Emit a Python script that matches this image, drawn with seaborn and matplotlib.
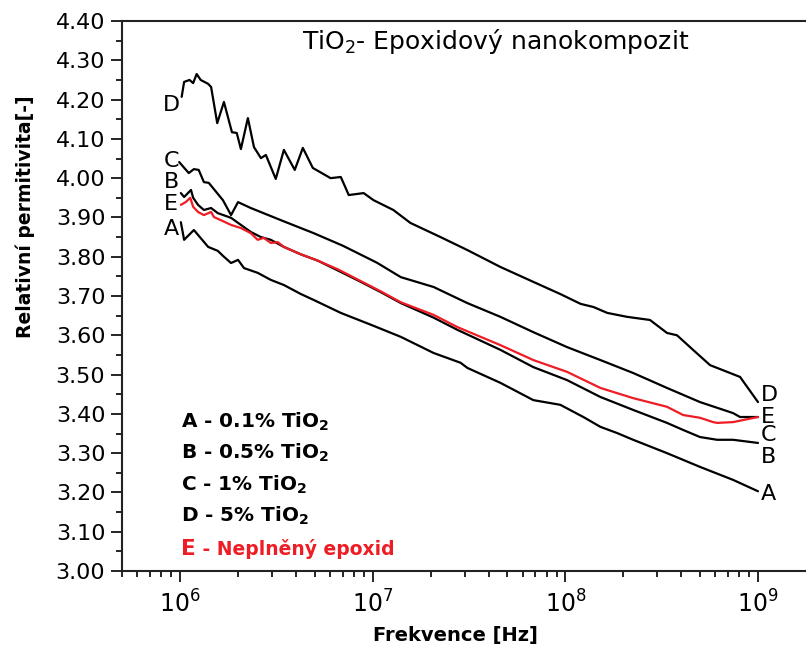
import numpy as np
import pandas as pd
import matplotlib
matplotlib.use("Agg")
import matplotlib.pyplot as plt
import seaborn as sns
from matplotlib.ticker import MultipleLocator, FormatStrFormatter, LogLocator, NullFormatter

# ---------------- data ----------------
A_freq = [1.01e6, 1.05e6, 1.18e6, 1.40e6, 1.57e6, 1.69e6, 1.84e6, 2.00e6, 2.15e6, 2.53e6,
          2.96e6, 3.46e6, 4.24e6, 4.94e6, 6.83e6, 1.0e7, 1.40e7, 2.07e7, 2.86e7, 3.10e7,
          4.60e7, 6.82e7, 9.42e7, 1.24e8, 1.52e8, 1.86e8, 2.25e8, 3.37e8, 5.00e8, 7.42e8, 1.0e9]
A_eps = [3.888, 3.843, 3.868, 3.825, 3.815, 3.800, 3.784, 3.792, 3.771, 3.759,
         3.741, 3.728, 3.705, 3.690, 3.657, 3.625, 3.596, 3.555, 3.530, 3.517,
         3.479, 3.435, 3.423, 3.392, 3.367, 3.351, 3.334, 3.300, 3.265, 3.232, 3.203]

B_freq = [1.01e6, 1.05e6, 1.14e6, 1.17e6, 1.24e6, 1.33e6, 1.45e6, 1.57e6, 1.84e6, 2.07e6,
          2.33e6, 2.63e6, 2.96e6, 3.46e6, 4.24e6, 5.19e6, 6.59e6, 8.36e6, 1.10e7, 1.40e7,
          2.07e7, 2.75e7, 4.60e7, 6.82e7, 1.02e8, 1.52e8, 2.25e8, 3.37e8, 4.09e8, 5.00e8,
          6.14e8, 7.42e8, 1.0e9]
B_eps = [3.962, 3.952, 3.970, 3.950, 3.932, 3.919, 3.924, 3.911, 3.899, 3.881,
         3.863, 3.850, 3.843, 3.825, 3.806, 3.790, 3.765, 3.740, 3.710, 3.682,
         3.645, 3.614, 3.563, 3.519, 3.486, 3.443, 3.410, 3.377, 3.359, 3.341,
         3.334, 3.334, 3.326]

C_freq = [0.99e6, 1.11e6, 1.18e6, 1.25e6, 1.33e6, 1.41e6, 1.67e6, 1.84e6, 2.00e6, 2.33e6,
          3.46e6, 4.94e6, 7.00e6, 1.05e7, 1.40e7, 2.07e7, 3.10e7, 4.60e7, 6.82e7, 1.02e8,
          1.52e8, 2.25e8, 3.37e8, 5.00e8, 7.42e8, 8.07e8, 1.0e9]
C_eps = [4.041, 4.013, 4.023, 4.021, 3.990, 3.988, 3.944, 3.906, 3.939, 3.924,
         3.890, 3.860, 3.828, 3.785, 3.748, 3.723, 3.682, 3.647, 3.608, 3.570,
         3.537, 3.504, 3.466, 3.430, 3.402, 3.392, 3.392]

D_freq = [1.02e6, 1.05e6, 1.12e6, 1.17e6, 1.22e6, 1.28e6, 1.40e6, 1.45e6, 1.56e6, 1.69e6,
          1.86e6, 1.97e6, 2.07e6, 2.25e6, 2.42e6, 2.63e6, 2.79e6, 3.14e6, 3.46e6, 3.94e6,
          4.34e6, 4.89e6, 6.05e6, 6.83e6, 7.24e6, 7.51e6, 8.98e6, 1.01e7, 1.28e7, 1.57e7,
          2.25e7, 3.10e7, 4.60e7, 6.82e7, 9.42e7, 1.20e8, 1.40e8, 1.65e8, 2.09e8, 2.75e8,
          3.37e8, 3.80e8, 4.60e8, 5.64e8, 6.91e8, 8.07e8, 1.0e9]
D_eps = [4.207, 4.245, 4.250, 4.242, 4.265, 4.250, 4.240, 4.232, 4.140, 4.194,
         4.117, 4.115, 4.074, 4.153, 4.079, 4.051, 4.059, 3.998, 4.072, 4.021,
         4.077, 4.026, 4.000, 4.003, 3.975, 3.957, 3.962, 3.944, 3.919, 3.886,
         3.850, 3.817, 3.774, 3.736, 3.705, 3.680, 3.672, 3.657, 3.647, 3.639,
         3.606, 3.600, 3.563, 3.524, 3.507, 3.494, 3.430]

E_freq = [1.01e6, 1.07e6, 1.13e6, 1.17e6, 1.24e6, 1.33e6, 1.45e6, 1.50e6, 1.63e6, 1.84e6,
          2.07e6, 2.33e6, 2.53e6, 2.72e6, 2.96e6, 3.22e6, 3.46e6, 4.24e6, 5.19e6, 6.59e6,
          8.36e6, 1.10e7, 1.40e7, 2.07e7, 2.75e7, 4.60e7, 6.82e7, 1.02e8, 1.52e8, 2.25e8,
          3.37e8, 4.09e8, 5.00e8, 5.85e8, 6.14e8, 7.42e8, 1.0e9]
E_eps = [3.932, 3.939, 3.950, 3.927, 3.914, 3.906, 3.914, 3.901, 3.893, 3.881,
         3.873, 3.860, 3.843, 3.848, 3.835, 3.837, 3.825, 3.806, 3.790, 3.768,
         3.742, 3.712, 3.684, 3.652, 3.621, 3.575, 3.537, 3.507, 3.466, 3.440,
         3.418, 3.397, 3.390, 3.379, 3.377, 3.379, 3.392]

series_names = ["A", "B", "C", "D", "E"]
series_colors = {"A": "black", "B": "black", "C": "black", "D": "black", "E": "#ee1c24"}

left_labels = {"D": 4.186, "C": 4.044, "B": 3.990, "E": 3.934, "A": 3.871}
right_labels = {"D": 3.448, "E": 3.392, "C": 3.346, "B": 3.290, "A": 3.196}

legend_lines = [r"A - 0.1% TiO$_\mathbf{2}$", r"B - 0.5% TiO$_\mathbf{2}$",
                r"C - 1% TiO$_\mathbf{2}$", r"D - 5% TiO$_\mathbf{2}$"]
legend_last = ("E", " - Neplněný epoxid")

title_text = r"TiO$_2$- Epoxidový nanokompozit"
x_label = "Frekvence [Hz]"
y_label = "Relativní permitivita[-]"
y_ticks = [3.00, 3.10, 3.20, 3.30, 3.40, 3.50, 3.60, 3.70, 3.80, 3.90, 4.00, 4.10, 4.20, 4.30, 4.40]
x_ticks = [1e6, 1e7, 1e8, 1e9]

# ---------------- build table ----------------
frames = []
for name, f, e in [("A", A_freq, A_eps), ("B", B_freq, B_eps), ("C", C_freq, C_eps),
                   ("D", D_freq, D_eps), ("E", E_freq, E_eps)]:
    frames.append(pd.DataFrame({"freq": f, "eps": e, "series": name}))
df = pd.concat(frames, ignore_index=True)

# ---------------- style ----------------
sns.set_style("ticks")
plt.rcParams["font.family"] = ["DejaVu Sans"]
plt.rcParams["mathtext.fontset"] = "dejavusans"
plt.rcParams["text.color"] = "black"
plt.rcParams["axes.labelcolor"] = "black"
plt.rcParams["xtick.color"] = "black"
plt.rcParams["ytick.color"] = "black"

fig = plt.figure(figsize=(8.06, 6.57), dpi=100)
ax = fig.add_axes([0.1514, 0.1309, 0.8486, 0.8371])
ax.set_xscale("log")

sns.lineplot(data=df, x="freq", y="eps", hue="series", hue_order=series_names,
             palette=series_colors, estimator=None, sort=False, legend=False,
             linewidth=1.6, ax=ax)

ax.set_xlim(5e5, 1.775e9)
ax.set_ylim(3.0, 4.4)

ax.set_yticks(y_ticks)
ax.yaxis.set_major_formatter(FormatStrFormatter("%.2f"))
ax.yaxis.set_minor_locator(MultipleLocator(0.05))
ax.set_xticks(x_ticks)
ax.xaxis.set_minor_locator(LogLocator(base=10, subs=np.arange(2, 10), numticks=20))
ax.xaxis.set_minor_formatter(NullFormatter())

ax.tick_params(axis="both", which="major", direction="out", length=8, width=1.2,
               color="black", labelcolor="black", top=False, right=False)
ax.tick_params(axis="both", which="minor", direction="out", length=4.5, width=1.2,
               color="black", top=False, right=False)
ax.tick_params(axis="y", labelsize=16, pad=4)
ax.tick_params(axis="x", labelsize=17, pad=6)

for side in ["left", "bottom", "top"]:
    ax.spines[side].set_linewidth(1.5)
    ax.spines[side].set_color("#222222")
ax.spines["right"].set_visible(False)

ax.set_xlabel(x_label, fontsize=14, fontweight="bold", color="black")
ax.set_ylabel(y_label, fontsize=13.5, fontweight="bold", color="black")
ax.xaxis.set_label_coords(0.487, -0.100)
ax.yaxis.set_label_coords(-0.127, 0.645)

# curve labels
for name, yv in left_labels.items():
    ax.text(8.98e5, yv, name, fontsize=16, ha="center", va="center", color="black")
for name, yv in right_labels.items():
    ax.text(1.036e9, yv, name, fontsize=16, ha="left", va="center", color="black")

# title
ax.text(0.263, 0.949, title_text, transform=ax.transAxes, fontsize=18,
        ha="left", va="baseline", color="black")

# legend block
leg_y = [0.260, 0.2036, 0.1455, 0.0891]
for txt, yy in zip(legend_lines, leg_y):
    ax.text(0.0863, yy, txt, transform=ax.transAxes, fontsize=14.4,
            fontweight="bold", ha="left", va="baseline", color="black")
t = ax.text(0.0863, 0.0291, legend_last[0], transform=ax.transAxes, fontsize=15.5,
            fontweight="bold", ha="left", va="baseline", color="#ee1c24")
ax.annotate(legend_last[1], xy=(1, 0), xycoords=t, xytext=(0, 0),
            textcoords="offset points", fontsize=13.5, fontweight="bold",
            color="#ee1c24", ha="left", va="bottom")

fig.savefig("out.png", dpi=100)
